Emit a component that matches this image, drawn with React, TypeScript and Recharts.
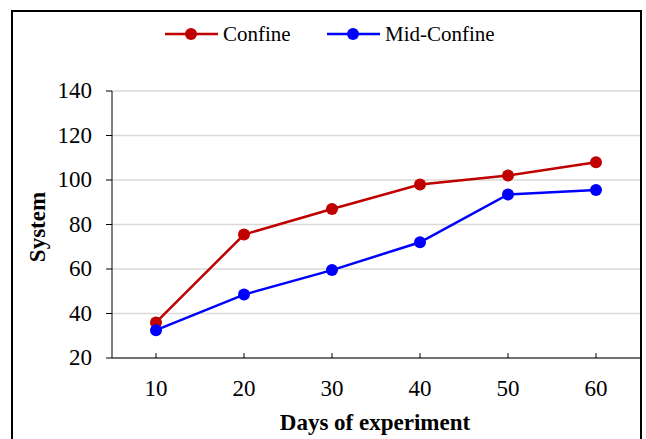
import React from "react";
import { LineChart, Line, XAxis, YAxis, CartesianGrid, Label } from "recharts";

const days = ["10", "20", "30", "40", "50", "60"];
const confine = [36, 75.5, 87, 98, 102, 108];
const midConfine = [32.5, 48.5, 59.5, 72, 93.5, 95.5];
const yTicks = [20, 40, 60, 80, 100, 120, 140];

const seriesInfo = [
  { key: "confine", name: "Confine", color: "#C00000" },
  { key: "midConfine", name: "Mid-Confine", color: "#0000FF" },
];

const data = days.map((d, i) => ({ day: d, confine: confine[i], midConfine: midConfine[i] }));

const FONT = "'Liberation Serif', 'Times New Roman', serif";
const TICK_SIZE = 23;

// x ticks point inward (up), label below
const XTick = (props: any) => {
  const { x, y, payload } = props;
  return (
    <g>
      <line x1={x} x2={x} y1={y - 5} y2={y} stroke="#000" strokeWidth={1} />
      <text x={x} y={y + 38} textAnchor="middle" fontSize={TICK_SIZE} fontFamily={FONT} fill="#000">
        {payload.value}
      </text>
    </g>
  );
};

const YTick = (props: any) => {
  const { x, y, payload } = props;
  return (
    <text x={x} y={y} dy={7} textAnchor="end" fontSize={TICK_SIZE} fontFamily={FONT} fill="#000">
      {payload.value}
    </text>
  );
};

const legendX = [165, 327];

const LegendBox = () => (
  <svg width={646} height={60} style={{ position: "absolute", left: 0, top: 0 }}>
    {seriesInfo.map((s, i) => (
      <g key={s.key} transform={`translate(${legendX[i]},34)`}>
        <line x1={0} x2={53} y1={0} y2={0} stroke={s.color} strokeWidth={2.5} />
        <circle cx={26} cy={0} r={6} fill={s.color} />
        <text x={58} y={7} fontSize={21} fontFamily={FONT} fill="#000">
          {s.name}
        </text>
      </g>
    ))}
  </svg>
);

export default function App() {
  return (
    <div style={{ position: "fixed", left: 0, top: 0, width: 646, height: 439, overflow: "hidden", background: "#fff" }}>
      <div
        style={{
          position: "absolute",
          left: 11,
          top: 10,
          width: 627,
          height: 460,
          border: "2px solid #000",
        }}
      />
      <div style={{ position: "absolute", left: 0, top: 0 }}>
        <LineChart width={646} height={439} data={data} margin={{ top: 91, right: 6, bottom: 0, left: 52 }}>
          <CartesianGrid vertical={false} stroke="#D9D9D9" strokeWidth={1.5} />
          <XAxis
            dataKey="day"
            tickLine={false}
            tickSize={0}
            tickMargin={0}
            tick={<XTick />}
            axisLine={{ stroke: "#000" }}
            padding={{ left: 44, right: 44 }}
            height={81}
          >
            <Label
              content={() => (
                <text x={375} y={430} textAnchor="middle" fontSize={23} fontWeight="bold" fontFamily={FONT} fill="#000">
                  Days of experiment
                </text>
              )}
            />
          </XAxis>
          <YAxis
            domain={[20, 140]}
            ticks={yTicks}
            width={60}
            tickSize={6}
            tickMargin={14}
            interval={0}
            tick={<YTick />}
            tickLine={{ stroke: "#000" }}
            axisLine={{ stroke: "#000" }}
          >
            <Label
              content={() => (
                <text
                  x={37}
                  y={227}
                  transform="rotate(-90 37 227)"
                  textAnchor="middle"
                  dominantBaseline="central"
                  fontSize={23}
                  fontWeight="bold"
                  fontFamily={FONT}
                  fill="#000"
                >
                  System
                </text>
              )}
            />
          </YAxis>
          {seriesInfo.map((s) => (
            <Line
              key={s.key}
              dataKey={s.key}
              name={s.name}
              stroke={s.color}
              strokeWidth={2.5}
              dot={{ r: 6, fill: s.color, stroke: s.color, strokeWidth: 0 }}
              activeDot={false}
              isAnimationActive={false}
            />
          ))}
        </LineChart>
      </div>
      <LegendBox />
    </div>
  );
}
